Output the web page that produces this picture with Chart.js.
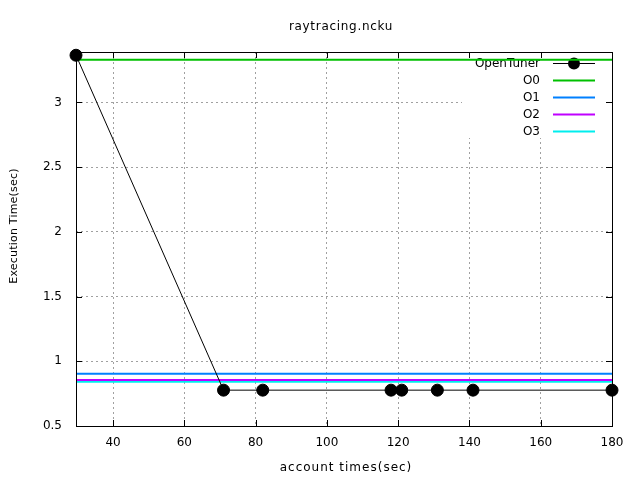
<!DOCTYPE html>
<html>
<head>
<meta charset="utf-8">
<script src="https://cdn.jsdelivr.net/npm/chart.js@4"></script>
<style>
  html, body { margin: 0; padding: 0; background: #fff; }
  #wrap { width: 640px; height: 480px; }
</style>
</head>
<body>
<div id="wrap"><canvas id="chart" width="640" height="480"></canvas></div>
<script>
// data
const tunerX = [29.6, 71, 82, 118, 121, 131, 141, 180];
const tunerY = [3.365, 0.777, 0.777, 0.777, 0.777, 0.777, 0.777, 0.777];
const flagNames = ['O0', 'O1', 'O2', 'O3'];
const flagTimes = [3.33, 0.904, 0.855, 0.842];
const flagColors = ['#00c000', '#0080ff', '#c000ff', '#00eeee'];
const xTicks = [40, 60, 80, 100, 120, 140, 160, 180];
const yTicks = [0.5, 1, 1.5, 2, 2.5, 3];
const xRange = [29.6, 180];
const yRange = [0.5, 3.39];

const FONT = '"DejaVu Sans", sans-serif';

const datasets = [{
    label: 'OpenTuner',
    data: tunerX.map((x, i) => ({ x: x, y: tunerY[i] })),
    borderColor: '#000',
    backgroundColor: '#000',
    borderWidth: 1,
    pointRadius: 6,
    pointHoverRadius: 6,
    clip: false,
    order: 0
}];
flagNames.forEach((name, i) => {
    datasets.push({
        label: name,
        data: [{ x: xRange[0], y: flagTimes[i] }, { x: xRange[1], y: flagTimes[i] }],
        borderColor: flagColors[i],
        borderWidth: 2,
        pointRadius: 0,
        clip: false,
        order: 1
    });
});

// gnuplot style key, white box behind it
const keyPlugin = {
    id: 'gnuKey',
    beforeDatasetsDraw(chart) {
        const ctx = chart.ctx;
        const a = chart.chartArea;
        ctx.save();
        ctx.fillStyle = '#fff';
        ctx.fillRect(a.right - 150, a.top, 150, 86);
        ctx.font = '12px ' + FONT;
        ctx.textAlign = 'right';
        ctx.textBaseline = 'middle';
        chart.data.datasets.forEach((ds, i) => {
            const y = Math.round(a.top + 11 + i * 17) + 0.5;
            ctx.fillStyle = '#000';
            ctx.fillText(ds.label, a.right - 72, y);
            ctx.strokeStyle = ds.borderColor;
            ctx.lineWidth = ds.borderWidth;
            ctx.beginPath();
            ctx.moveTo(a.right - 59, y);
            ctx.lineTo(a.right - 17, y);
            ctx.stroke();
            if (i === 0) {
                ctx.fillStyle = '#000';
                ctx.beginPath();
                ctx.arc(a.right - 38, y, 6, 0, Math.PI * 2);
                ctx.fill();
            }
        });
        ctx.restore();
    }
};

// frame, inward ticks and the labels
const framePlugin = {
    id: 'gnuFrame',
    afterDatasetsDraw(chart) {
        const ctx = chart.ctx;
        const a = chart.chartArea;
        const xs = chart.scales.x, ys = chart.scales.y;
        ctx.save();
        ctx.strokeStyle = '#000';
        ctx.lineWidth = 1;
        ctx.beginPath();
        xTicks.forEach(v => {
            const px = Math.round(xs.getPixelForValue(v)) + 0.5;
            ctx.moveTo(px, a.bottom); ctx.lineTo(px, a.bottom - 6);
            ctx.moveTo(px, a.top); ctx.lineTo(px, a.top + 6);
        });
        yTicks.forEach(v => {
            const py = Math.round(ys.getPixelForValue(v)) + 0.5;
            ctx.moveTo(a.left, py); ctx.lineTo(a.left + 6, py);
            ctx.moveTo(a.right, py); ctx.lineTo(a.right - 6, py);
        });
        ctx.stroke();
        ctx.strokeRect(Math.round(a.left) + 0.5, Math.round(a.top) + 0.5,
            Math.round(a.right - a.left), Math.round(a.bottom - a.top));
        ctx.restore();
    },
    afterDraw(chart) {
        const ctx = chart.ctx;
        ctx.save();
        ctx.fillStyle = '#000';
        ctx.textAlign = 'center';
        ctx.textBaseline = 'middle';
        ctx.font = '12px ' + FONT;
        ctx.letterSpacing = '0.7px';
        ctx.fillText('raytracing.ncku', 341, 27);
        ctx.letterSpacing = '1px';
        ctx.fillText('account times(sec)', 346, 468);
        ctx.font = '11px ' + FONT;
        ctx.letterSpacing = '0.2px';
        ctx.translate(14, 226);
        ctx.rotate(-Math.PI / 2);
        ctx.fillText('Execution Time(sec)', 0, 0);
        ctx.restore();
    }
};

new Chart(document.getElementById('chart'), {
    type: 'line',
    data: { datasets: datasets },
    options: {
        responsive: false,
        animation: false,
        events: [],
        layout: { padding: { top: 52, right: 28, left: 0, bottom: 0 } },
        plugins: { legend: { display: false }, tooltip: { enabled: false }, title: { display: false } },
        scales: {
            x: {
                type: 'linear',
                min: xRange[0],
                max: xRange[1],
                afterBuildTicks: s => { s.ticks = xTicks.map(v => ({ value: v })); },
                afterFit: s => { s.height = 54; },
                grid: { color: '#a0a0a0', drawTicks: false },
                border: { display: false, dash: [2, 3] },
                ticks: { color: '#000', font: { family: FONT, size: 12 }, padding: 10, maxRotation: 0 }
            },
            y: {
                type: 'linear',
                min: yRange[0],
                max: yRange[1],
                afterBuildTicks: s => { s.ticks = yTicks.map(v => ({ value: v })); },
                afterFit: s => { s.width = 76; },
                grid: { color: '#a0a0a0', drawTicks: false },
                border: { display: false, dash: [2, 3] },
                ticks: { color: '#000', font: { family: FONT, size: 12 }, padding: 14, callback: v => String(v) }
            }
        }
    },
    plugins: [keyPlugin, framePlugin]
});
</script>
</body>
</html>
